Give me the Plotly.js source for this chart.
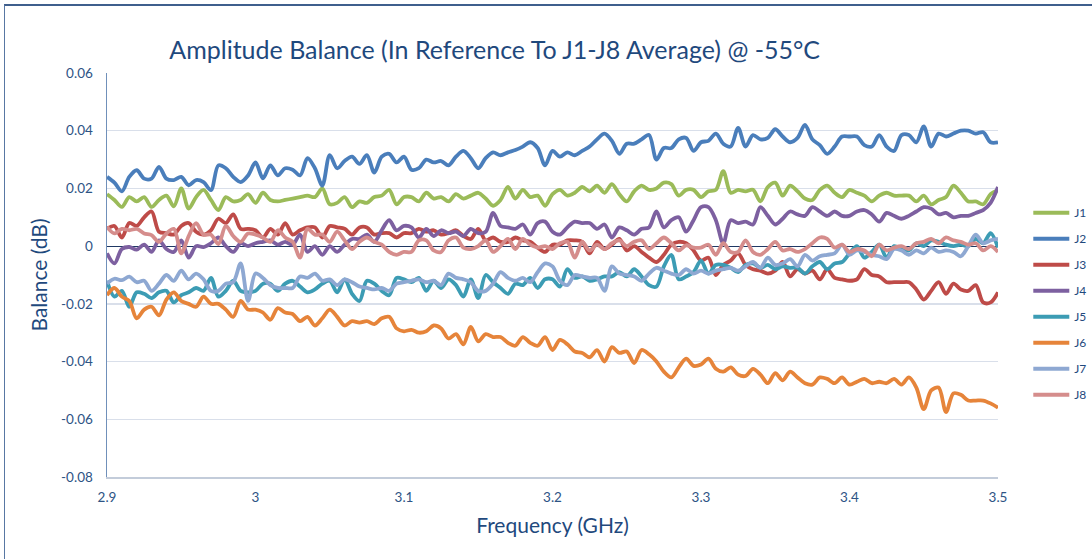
<!DOCTYPE html>
<html>
<head>
<meta charset="utf-8">
<script src="https://cdn.plot.ly/plotly-3.0.1.min.js"></script>
<style>
  html, body { margin: 0; padding: 0; background: #ffffff; }
  #frame { position: absolute; left: 4px; top: 4px; width: 1200px; height: 700px;
           border-left: 1.5px solid #5877A3; border-top: 2px solid #3F5F8D; pointer-events: none; z-index: 5; }
  #chart { position: absolute; left: 0; top: 0; width: 1092px; height: 559px; }
</style>
</head>
<body>
<div id="chart"></div>
<div id="frame"></div>
<script>
// Frequency sweep (GHz)
const freqStart = 2.9;
const freqStep = 0.005;
const nPoints = 121;

const seriesNames = ["J1", "J2", "J3", "J4", "J5", "J6", "J7", "J8"];

const J1 = [0.018,0.016,0.0136,0.017,0.0155,0.017,0.0136,0.016,0.0175,0.0138,0.020,0.013,0.017,0.0195,0.016,0.0125,0.017,0.0155,0.016,0.018,
0.015,0.0185,0.016,0.0155,0.016,0.0165,0.017,0.0175,0.017,0.020,0.0145,0.015,0.017,0.0135,0.0155,0.015,0.017,0.0175,0.0195,0.0145,
0.017,0.017,0.0155,0.0185,0.0165,0.017,0.0155,0.018,0.0165,0.0175,0.0185,0.0165,0.014,0.016,0.0205,0.0165,0.0195,0.017,0.0175,0.014,
0.018,0.0195,0.0175,0.0185,0.0205,0.019,0.021,0.0185,0.0215,0.018,0.0155,0.019,0.021,0.0195,0.020,0.022,0.0215,0.0175,0.0195,0.0195,
0.017,0.019,0.0195,0.026,0.0185,0.0195,0.019,0.0195,0.0155,0.0205,0.022,0.0175,0.021,0.019,0.0165,0.016,0.0195,0.021,0.0185,0.017,
0.0195,0.0185,0.0175,0.0155,0.0175,0.0185,0.0175,0.0175,0.0175,0.0155,0.0175,0.0145,0.016,0.017,0.021,0.0185,0.0155,0.0155,0.0145,0.018,0.0195];

const J2 = [0.024,0.022,0.019,0.024,0.0263,0.0234,0.0234,0.0275,0.0234,0.0229,0.024,0.0211,0.0229,0.0222,0.0194,0.028,0.027,0.024,0.0222,0.0245,
0.029,0.0235,0.028,0.0245,0.027,0.0265,0.0245,0.0305,0.027,0.021,0.0315,0.027,0.0295,0.031,0.0285,0.0315,0.0255,0.031,0.032,0.029,
0.031,0.0265,0.027,0.030,0.029,0.0295,0.028,0.031,0.033,0.0305,0.027,0.0305,0.0325,0.0315,0.0325,0.0333,0.0345,0.036,0.034,0.028,
0.033,0.031,0.0325,0.0315,0.033,0.0345,0.037,0.039,0.0365,0.032,0.0355,0.0355,0.037,0.0385,0.030,0.034,0.034,0.037,0.0375,0.033,
0.036,0.0365,0.039,0.0355,0.0345,0.041,0.0345,0.0385,0.037,0.0375,0.0405,0.038,0.036,0.0375,0.042,0.037,0.035,0.032,0.0345,0.038,
0.038,0.038,0.035,0.0345,0.0385,0.0345,0.033,0.0385,0.0385,0.036,0.0415,0.0345,0.039,0.038,0.039,0.040,0.040,0.039,0.0395,0.036,0.036];

const J3 = [0.006,0.007,0.003,0.008,0.007,0.010,0.012,0.005,0.0045,0.004,0.007,0.008,0.005,0.004,0.0055,0.0095,0.008,0.011,0.006,0.006,
0.0055,0.003,0.006,0.004,0.008,0.004,0.0055,0.0065,0.0065,0.003,0.007,0.0065,0.006,0.004,0.0065,0.0065,0.004,0.0045,0.0045,0.003,
0.0045,0.0045,0.006,0.005,0.0055,0.004,0.0045,0.0055,0.0035,0.0025,0.006,0.002,0.003,0.0015,0.0015,0.003,0.002,0.0015,-0.0005,-0.002,
0.0005,0.0005,0.002,0.002,0.0015,-0.0025,0.0015,-0.001,0.0005,0.0025,-0.0015,0.0,-0.002,-0.004,-0.0055,-0.003,0.0005,0.0015,0.001,-0.0015,
-0.005,-0.004,-0.010,-0.0065,-0.005,-0.0025,-0.0065,-0.008,-0.0085,-0.0095,-0.0085,-0.0055,-0.0105,-0.008,-0.0095,-0.0085,-0.0115,-0.008,-0.011,-0.0115,
-0.012,-0.0115,-0.008,-0.010,-0.0105,-0.0125,-0.0125,-0.0125,-0.0125,-0.015,-0.0185,-0.0155,-0.0125,-0.0165,-0.013,-0.015,-0.0155,-0.0135,-0.0195,-0.0195,-0.016];

const J4 = [-0.0025,-0.006,-0.001,-0.0003,-0.0012,0.0005,-0.002,0.002,-0.001,-0.002,0.002,-0.004,0.0,-0.0003,0.001,0.003,0.0,-0.002,0.001,0.0,
0.001,0.0015,0.002,0.0005,0.0015,0.0005,0.004,-0.002,0.0,-0.003,0.0,-0.002,0.0005,0.0025,0.0025,0.004,0.0015,0.0055,0.009,0.0055,
0.007,0.0065,0.003,0.006,0.0035,0.0055,0.0045,0.005,0.0035,0.006,0.0045,0.005,0.0115,0.007,0.0065,0.006,0.0075,0.004,0.008,0.0085,
0.005,0.004,0.0065,0.0085,0.008,0.008,0.006,0.0075,0.003,0.0065,0.0055,0.004,0.006,0.0065,0.012,0.0065,0.009,0.010,0.005,0.009,
0.0135,0.0135,0.009,0.001,0.009,0.008,0.0085,0.0075,0.0135,0.0105,0.0075,0.0095,0.012,0.011,0.0105,0.0135,0.012,0.0105,0.012,0.0105,
0.0105,0.012,0.0125,0.011,0.0085,0.0115,0.0105,0.0095,0.0105,0.012,0.0135,0.013,0.011,0.0115,0.010,0.0105,0.0105,0.0115,0.0125,0.015,0.0205];

const J5 = [-0.012,-0.0175,-0.0155,-0.021,-0.016,-0.0165,-0.018,-0.016,-0.0155,-0.0195,-0.017,-0.016,-0.0145,-0.0155,-0.011,-0.0175,-0.0155,-0.012,-0.0155,-0.016,
-0.0155,-0.013,-0.013,-0.0155,-0.013,-0.012,-0.014,-0.016,-0.015,-0.013,-0.012,-0.016,-0.0115,-0.0165,-0.019,-0.012,-0.013,-0.0155,-0.017,-0.011,
-0.0115,-0.0125,-0.011,-0.0155,-0.012,-0.0145,-0.0115,-0.0135,-0.0175,-0.0115,-0.018,-0.010,-0.0125,-0.0145,-0.0165,-0.013,-0.0135,-0.011,-0.0145,-0.0115,
-0.0115,-0.014,-0.008,-0.011,-0.0105,-0.012,-0.0115,-0.0105,-0.0105,-0.009,-0.0105,-0.008,-0.0105,-0.0135,-0.014,-0.007,-0.003,-0.0115,-0.0105,-0.009,
-0.005,-0.0095,-0.0065,-0.0065,-0.0075,-0.009,-0.0065,-0.006,-0.0075,-0.0065,-0.008,-0.007,-0.0075,-0.0075,-0.0095,-0.007,-0.0055,-0.008,-0.006,-0.0055,
-0.0025,0.0,-0.004,-0.002,0.0005,-0.004,0.0,-0.001,-0.0015,0.001,0.0,0.002,0.0015,0.0005,0.0,0.0005,0.0,0.0025,0.001,0.0045,-0.0005];

const J6 = [-0.017,-0.0145,-0.0175,-0.019,-0.025,-0.022,-0.021,-0.024,-0.0185,-0.016,-0.019,-0.020,-0.021,-0.0175,-0.020,-0.020,-0.022,-0.0245,-0.019,-0.022,
-0.022,-0.023,-0.0255,-0.0215,-0.023,-0.0235,-0.026,-0.0245,-0.0275,-0.025,-0.022,-0.0245,-0.0275,-0.026,-0.0265,-0.026,-0.027,-0.025,-0.0245,-0.0285,
-0.0295,-0.029,-0.030,-0.0295,-0.0275,-0.0285,-0.032,-0.0305,-0.034,-0.028,-0.033,-0.0305,-0.0315,-0.0315,-0.0335,-0.0345,-0.0315,-0.0335,-0.0345,-0.0315,
-0.036,-0.0325,-0.034,-0.0365,-0.037,-0.0385,-0.036,-0.040,-0.035,-0.037,-0.0365,-0.0405,-0.036,-0.0375,-0.040,-0.0435,-0.0455,-0.042,-0.039,-0.0415,
-0.041,-0.039,-0.0425,-0.0435,-0.042,-0.0445,-0.045,-0.0425,-0.0445,-0.0475,-0.044,-0.0465,-0.0435,-0.0455,-0.0475,-0.048,-0.0455,-0.046,-0.0475,-0.0455,
-0.048,-0.047,-0.046,-0.0475,-0.047,-0.0475,-0.046,-0.048,-0.0455,-0.049,-0.0565,-0.050,-0.049,-0.0575,-0.051,-0.0515,-0.0535,-0.0535,-0.0535,-0.0545,-0.056];

const J7 = [-0.013,-0.0113,-0.0118,-0.0106,-0.0125,-0.012,-0.0155,-0.013,-0.010,-0.012,-0.0085,-0.0115,-0.0095,-0.0115,-0.0155,-0.0155,-0.013,-0.0125,-0.006,-0.019,
-0.0095,-0.011,-0.0135,-0.0145,-0.0145,-0.0145,-0.0105,-0.011,-0.0095,-0.012,-0.0115,-0.0135,-0.0115,-0.0125,-0.014,-0.0145,-0.015,-0.0145,-0.0155,-0.013,
-0.0125,-0.012,-0.0115,-0.0125,-0.012,-0.0135,-0.0095,-0.011,-0.0115,-0.0125,-0.0155,-0.0155,-0.013,-0.009,-0.011,-0.012,-0.011,-0.0125,-0.009,-0.006,
-0.007,-0.012,-0.0135,-0.010,-0.0105,-0.011,-0.011,-0.0155,-0.007,-0.0095,-0.010,-0.0105,-0.012,-0.0095,-0.0075,-0.0085,-0.0095,-0.010,-0.008,-0.0095,
-0.0085,-0.0095,-0.0085,-0.008,-0.0075,-0.0085,-0.007,-0.0055,-0.0075,-0.004,-0.0065,-0.006,-0.0045,-0.007,-0.003,-0.005,-0.0035,-0.003,-0.0025,0.0005,
-0.003,-0.0015,-0.002,-0.003,-0.0035,-0.0045,-0.001,-0.0015,-0.003,-0.0015,-0.0025,-0.0005,-0.002,-0.0015,-0.002,-0.0035,0.0,0.004,0.001,0.002,0.0025];

const J8 = [0.0067,0.0044,0.006,0.0055,0.006,0.0044,0.0038,0.0015,0.0044,0.006,-0.0025,0.0035,0.008,0.004,0.004,0.0007,0.007,0.0035,0.0015,0.0044,
0.004,0.003,0.0015,0.0055,0.003,0.0015,-0.004,0.006,0.004,0.004,0.0015,0.005,0.002,-0.001,0.0015,0.003,0.0015,0.0005,-0.002,-0.003,
-0.002,-0.002,0.002,0.002,-0.0015,-0.002,0.002,0.003,-0.0005,-0.001,0.0,0.002,-0.002,0.0,0.0025,-0.001,0.0025,0.0005,-0.0005,0.0,
-0.001,0.001,0.0015,-0.004,0.0015,-0.0015,0.0005,-0.001,0.001,0.002,0.0,0.0015,0.002,-0.001,0.001,0.003,0.001,-0.0015,0.0003,-0.0005,
-0.0005,0.0005,-0.003,0.001,-0.002,-0.002,0.002,-0.002,-0.003,-0.001,0.0015,-0.0015,-0.001,-0.002,-0.001,0.001,0.003,0.0025,-0.0005,0.0005,
-0.002,-0.001,-0.0015,-0.0035,0.0005,-0.0015,-0.0005,0.0,-0.001,0.001,0.0015,0.0025,0.001,0.003,0.002,0.0015,0.0005,0.001,-0.0015,0.0,-0.002];

const yTickVals = [-0.08, -0.06, -0.04, -0.02, 0, 0.02, 0.04, 0.06];
const yTickText = ["-0.08", "-0.06", "-0.04", "-0.02", "0", "0.02", "0.04", "0.06"];
const xTickVals = [2.9, 3.0, 3.1, 3.2, 3.3, 3.4, 3.5];
const xTickText = ["2.9", "3", "3.1", "3.2", "3.3", "3.4", "3.5"];

const colors = ["#9BBB59", "#4A7EBB", "#BE4B48", "#7D60A0", "#3C9CB4", "#E6843A", "#8EA8D2", "#D58D8C"];

const freq = [];
for (let i = 0; i < nPoints; i++) freq.push(+(freqStart + i * freqStep).toFixed(4));

const allSeries = [J1, J2, J3, J4, J5, J6, J7, J8];
const traces = allSeries.map((vals, k) => ({
  x: freq,
  y: vals,
  type: "scatter",
  mode: "lines",
  name: seriesNames[k],
  legendgroup: seriesNames[k],
  line: { color: colors[k], width: 3.8, shape: "spline", smoothing: 0.9 },
  hoverinfo: "x+y+name"
}));

const fontFam = "Lato, 'Open Sans', sans-serif";
const textColor = "#1F497D";

const layout = {
  width: 1092,
  height: 559,
  paper_bgcolor: "#ffffff",
  plot_bgcolor: "#ffffff",
  margin: { l: 107, r: 94, t: 73, b: 82, autoexpand: false },
  font: { family: fontFam, color: textColor },
  title: {
    text: "Amplitude Balance (In Reference To J1-J8 Average) @ -55°C",
    font: { family: fontFam, size: 25, color: "#1F497D" },
    x: 0.453, xref: "container", xanchor: "center",
    y: 0.91, yref: "container", yanchor: "middle"
  },
  xaxis: {
    range: [2.9, 3.5],
    tickvals: xTickVals,
    ticktext: xTickText,
    showgrid: false,
    zeroline: false,
    showline: true,
    linecolor: "#C3CCDA",
    linewidth: 1.5,
    ticks: "outside",
    ticklen: 7,
    tickcolor: "rgba(0,0,0,0)",
    tickfont: { family: fontFam, size: 13.5, color: "#2E5485" },
    title: { text: "Frequency (GHz)", font: { family: fontFam, size: 21, color: textColor }, standoff: 14 }
  },
  yaxis: {
    range: [-0.08, 0.06],
    tickvals: yTickVals,
    ticktext: yTickText,
    showgrid: true,
    gridcolor: "#D9DFEA",
    gridwidth: 1.5,
    zeroline: true,
    zerolinecolor: "#1F3864",
    zerolinewidth: 1,
    showline: true,
    linecolor: "#7090BA",
    linewidth: 1.5,
    ticks: "outside",
    ticklen: 10,
    tickcolor: "rgba(0,0,0,0)",
    tickfont: { family: fontFam, size: 13.5, color: "#2E5485" },
    title: { text: "Balance (dB)", font: { family: fontFam, size: 21, color: textColor }, standoff: 7 }
  },
  showlegend: true,
  legend: {
    x: 1.034, xanchor: "left",
    y: 0.69, yanchor: "top",
    font: { family: fontFam, size: 12, color: textColor },
    tracegroupgap: 7,
    itemwidth: 36,
    bgcolor: "rgba(0,0,0,0)"
  }
};

Plotly.newPlot("chart", traces, layout, { displayModeBar: false, staticPlot: true });
</script>
</body>
</html>
